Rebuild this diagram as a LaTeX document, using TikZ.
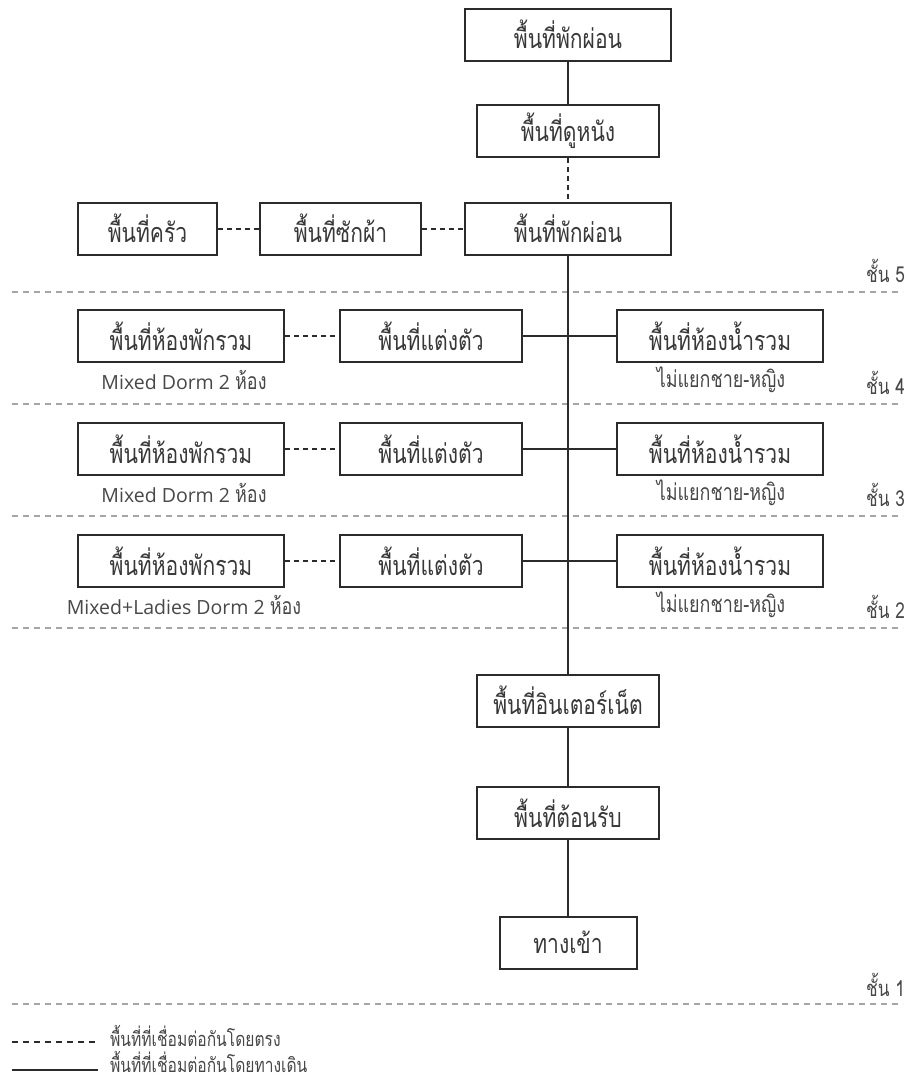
\documentclass[tikz,border=0pt]{standalone}
\usepackage{fontspec}
\setmainfont[Script=Thai, FakeStretch=0.78]{Loma}
\newfontfamily\latinpart{Open Sans}
\definecolor{linec}{HTML}{2B2B2B}
\definecolor{textc}{HTML}{383838}
\definecolor{notec}{HTML}{474747}
\definecolor{floorc}{HTML}{A5A5A5}
\tikzset{
  room/.style={draw=linec, line width=2pt, fill=white, minimum height=52pt,
    inner sep=0pt, text=textc, font=\fontsize{27}{30}\selectfont},
  walk/.style={draw=linec, line width=2pt},
  direct/.style={draw=linec, line width=2pt, dash pattern=on 5pt off 4pt},
  floorline/.style={draw=floorc, line width=1.1pt, dash pattern=on 6pt off 5pt},
  note/.style={text=notec, inner sep=0pt, font=\fontsize{23}{26}\selectfont},
  floorlabel/.style={text=notec, inner sep=0pt, anchor=east, font=\fontsize{22}{24}\selectfont},
  legendtext/.style={text=notec, inner sep=0pt, anchor=west, font=\fontsize{20}{22}\selectfont},
}
\newcommand\dormsub[1]{{\latinpart\fontsize{19.5}{22}\selectfont #1 }ห้อง}
\begin{document}
\begin{tikzpicture}[x=1pt, y=-1pt]
\useasboundingbox (0,0) rectangle (907,1084);

% floor separators
\foreach \yy in {292,404,516,628,1004}
  \draw[floorline] (12,\yy) -- (903,\yy);
\node[floorlabel] (f5) at (905,271) {ชั้น 5};
\node[floorlabel] (f4) at (905,383) {ชั้น 4};
\node[floorlabel] (f3) at (905,495) {ชั้น 3};
\node[floorlabel] (f2) at (905,607) {ชั้น 2};
\node[floorlabel] (f1) at (905,985) {ชั้น 1};

% floor 5
\node[room, minimum width=206pt] (rest1) at (568,34.5) {พื้นที่พักผ่อน};
\node[room, minimum width=182pt] (movie) at (568,131) {พื้นที่ดูหนัง};
\node[room, minimum width=206pt] (rest2) at (568,228.5) {พื้นที่พักผ่อน};
\node[room, minimum width=139pt] (kitchen) at (147.5,228.5) {พื้นที่ครัว};
\node[room, minimum width=161pt] (laundry) at (340.5,228.5) {พื้นที่ซักผ้า};

% floors 2-4
\foreach \n/\yy/\sub in {4/336/Mixed Dorm 2, 3/449/Mixed Dorm 2, 2/561/Mixed+Ladies Dorm 2}{
  \node[room, minimum width=206pt] (dorm\n) at (181,\yy) {พื้นที่ห้องพักรวม};
  \node[room, minimum width=182pt] (dress\n) at (431,\yy) {พื้นที่แต่งตัว};
  \node[room, minimum width=206pt] (bath\n) at (720,\yy) {พื้นที่ห้องน้ำรวม};
  \node[note] (dormnote\n) at (184,\yy+44) {\dormsub{\sub}};
  \node[note] (bathnote\n) at (721,\yy+44) {ไม่แยกชาย-หญิง};
}

% floor 1
\node[room, minimum width=182pt] (internet) at (568,700.5) {พื้นที่อินเตอร์เน็ต};
\node[room, minimum width=182pt] (lobby) at (568,813) {พื้นที่ต้อนรับ};
\node[room, minimum width=137pt] (entry) at (568,942.5) {ทางเข้า};

% connections
\draw[walk] (rest1) -- (movie);
\draw[direct] (movie) -- (rest2);
\draw[direct] (kitchen) -- (laundry);
\draw[direct] (laundry) -- (rest2);
\draw[walk] (rest2) -- (internet);
\foreach \n in {4,3,2}{
  \draw[direct] (dorm\n) -- (dress\n);
  \draw[walk] (dress\n) -- (bath\n);
}
\draw[walk] (internet) -- (lobby);
\draw[walk] (lobby) -- (entry);

% legend
\coordinate (ld1) at (12,1042);
\coordinate (ld2) at (98,1042);
\coordinate (ls1) at (12,1070);
\coordinate (ls2) at (98,1070);
\draw[direct, line width=1.6pt, dash pattern=on 6pt off 5pt] (ld1) -- (ld2);
\draw[walk, line width=1.6pt] (ls1) -- (ls2);
\node[legendtext] (legdirect) at (110,1036) {พื้นที่ที่เชื่อมต่อกันโดยตรง};
\node[legendtext] (legwalk) at (110,1062) {พื้นที่ที่เชื่อมต่อกันโดยทางเดิน};
\end{tikzpicture}
\end{document}
